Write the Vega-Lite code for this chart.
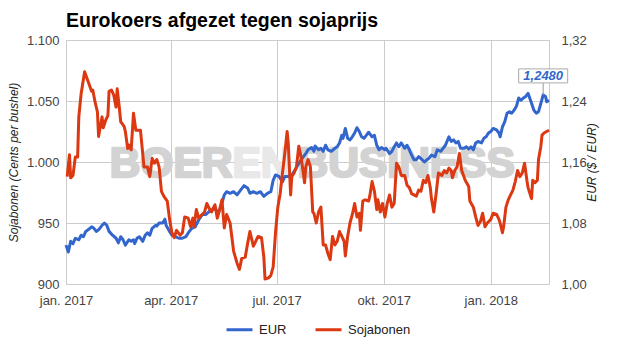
{
  "$schema": "https://vega.github.io/schema/vega-lite/v6.json",
  "width": 483,
  "height": 244,
  "autosize": {"type": "none"},
  "padding": {"left": 66, "top": 40, "right": 76, "bottom": 71},
  "background": "white",
  "title": {"text": "Eurokoers afgezet tegen sojaprijs", "anchor": "start", "frame": "group", "font": "Liberation Sans", "fontSize": 19.5, "fontWeight": "bold", "color": "#000000", "offset": 3},
  "config": {
    "view": {"stroke": "#cccccc"},
    "axis": {"labelFont": "Liberation Sans", "titleFont": "Liberation Sans", "labelFontSize": 13, "labelColor": "#444444", "domain": false, "ticks": false, "gridColor": "#cccccc", "labelOverlap": false}
  },
  "datasets": {
    "soy": [
      {"d": "2017-01-02", "v": 988}, {"d": "2017-01-04", "v": 1006}, {"d": "2017-01-05", "v": 987}, {"d": "2017-01-07", "v": 989},
      {"d": "2017-01-09", "v": 1004}, {"d": "2017-01-11", "v": 1004}, {"d": "2017-01-12", "v": 1037}, {"d": "2017-01-14", "v": 1056},
      {"d": "2017-01-17", "v": 1074}, {"d": "2017-01-20", "v": 1066}, {"d": "2017-01-23", "v": 1058}, {"d": "2017-01-24", "v": 1059},
      {"d": "2017-01-26", "v": 1049}, {"d": "2017-01-28", "v": 1041}, {"d": "2017-01-29", "v": 1021}, {"d": "2017-02-01", "v": 1037},
      {"d": "2017-02-02", "v": 1028}, {"d": "2017-02-04", "v": 1034}, {"d": "2017-02-06", "v": 1038}, {"d": "2017-02-07", "v": 1058},
      {"d": "2017-02-09", "v": 1059}, {"d": "2017-02-11", "v": 1055}, {"d": "2017-02-13", "v": 1045}, {"d": "2017-02-14", "v": 1060},
      {"d": "2017-02-16", "v": 1043}, {"d": "2017-02-17", "v": 1033}, {"d": "2017-02-20", "v": 1029}, {"d": "2017-02-21", "v": 1025},
      {"d": "2017-02-23", "v": 1011}, {"d": "2017-02-24", "v": 1014}, {"d": "2017-02-26", "v": 1010}, {"d": "2017-02-28", "v": 1040},
      {"d": "2017-03-02", "v": 1026}, {"d": "2017-03-06", "v": 1026}, {"d": "2017-03-09", "v": 996}, {"d": "2017-03-12", "v": 996},
      {"d": "2017-03-14", "v": 988}, {"d": "2017-03-16", "v": 1003}, {"d": "2017-03-18", "v": 999}, {"d": "2017-03-20", "v": 1002},
      {"d": "2017-03-22", "v": 996}, {"d": "2017-03-24", "v": 976}, {"d": "2017-03-26", "v": 972}, {"d": "2017-03-29", "v": 968},
      {"d": "2017-03-31", "v": 953}, {"d": "2017-04-02", "v": 942}, {"d": "2017-04-04", "v": 938}, {"d": "2017-04-06", "v": 944},
      {"d": "2017-04-09", "v": 940}, {"d": "2017-04-11", "v": 942}, {"d": "2017-04-13", "v": 955}, {"d": "2017-04-16", "v": 954},
      {"d": "2017-04-18", "v": 947}, {"d": "2017-04-20", "v": 954}, {"d": "2017-04-21", "v": 947}, {"d": "2017-04-23", "v": 961},
      {"d": "2017-04-25", "v": 954}, {"d": "2017-04-28", "v": 957}, {"d": "2017-04-30", "v": 959}, {"d": "2017-05-02", "v": 966},
      {"d": "2017-05-04", "v": 962}, {"d": "2017-05-06", "v": 959}, {"d": "2017-05-09", "v": 965}, {"d": "2017-05-11", "v": 954},
      {"d": "2017-05-13", "v": 961}, {"d": "2017-05-15", "v": 969}, {"d": "2017-05-17", "v": 946}, {"d": "2017-05-19", "v": 957},
      {"d": "2017-05-22", "v": 950}, {"d": "2017-05-25", "v": 927}, {"d": "2017-05-28", "v": 917}, {"d": "2017-05-30", "v": 912},
      {"d": "2017-06-01", "v": 921}, {"d": "2017-06-04", "v": 922}, {"d": "2017-06-06", "v": 933}, {"d": "2017-06-08", "v": 943},
      {"d": "2017-06-11", "v": 931}, {"d": "2017-06-13", "v": 935}, {"d": "2017-06-15", "v": 939}, {"d": "2017-06-18", "v": 938},
      {"d": "2017-06-20", "v": 922}, {"d": "2017-06-21", "v": 904}, {"d": "2017-06-24", "v": 905}, {"d": "2017-06-26", "v": 907},
      {"d": "2017-06-28", "v": 914}, {"d": "2017-06-30", "v": 942}, {"d": "2017-07-02", "v": 963}, {"d": "2017-07-04", "v": 974},
      {"d": "2017-07-06", "v": 991}, {"d": "2017-07-08", "v": 1007}, {"d": "2017-07-10", "v": 1025}, {"d": "2017-07-11", "v": 1015},
      {"d": "2017-07-13", "v": 973}, {"d": "2017-07-14", "v": 988}, {"d": "2017-07-16", "v": 991}, {"d": "2017-07-18", "v": 996},
      {"d": "2017-07-20", "v": 1013}, {"d": "2017-07-22", "v": 1004}, {"d": "2017-07-25", "v": 983}, {"d": "2017-07-26", "v": 996},
      {"d": "2017-07-28", "v": 1002}, {"d": "2017-07-30", "v": 996}, {"d": "2017-08-01", "v": 959}, {"d": "2017-08-02", "v": 958},
      {"d": "2017-08-04", "v": 950}, {"d": "2017-08-06", "v": 959}, {"d": "2017-08-08", "v": 963}, {"d": "2017-08-10", "v": 932},
      {"d": "2017-08-12", "v": 932}, {"d": "2017-08-14", "v": 925}, {"d": "2017-08-16", "v": 920}, {"d": "2017-08-18", "v": 939},
      {"d": "2017-08-20", "v": 932}, {"d": "2017-08-22", "v": 935}, {"d": "2017-08-24", "v": 943}, {"d": "2017-08-26", "v": 939},
      {"d": "2017-08-28", "v": 935}, {"d": "2017-08-29", "v": 923}, {"d": "2017-08-31", "v": 939}, {"d": "2017-09-02", "v": 950},
      {"d": "2017-09-04", "v": 957}, {"d": "2017-09-06", "v": 966}, {"d": "2017-09-08", "v": 955}, {"d": "2017-09-10", "v": 958},
      {"d": "2017-09-11", "v": 944}, {"d": "2017-09-13", "v": 968}, {"d": "2017-09-15", "v": 969}, {"d": "2017-09-18", "v": 968},
      {"d": "2017-09-19", "v": 972}, {"d": "2017-09-21", "v": 984}, {"d": "2017-09-23", "v": 976}, {"d": "2017-09-25", "v": 961},
      {"d": "2017-09-26", "v": 969}, {"d": "2017-09-28", "v": 959}, {"d": "2017-09-30", "v": 966}, {"d": "2017-10-02", "v": 955},
      {"d": "2017-10-04", "v": 966}, {"d": "2017-10-06", "v": 973}, {"d": "2017-10-08", "v": 963}, {"d": "2017-10-10", "v": 966},
      {"d": "2017-10-12", "v": 999}, {"d": "2017-10-14", "v": 996}, {"d": "2017-10-16", "v": 989}, {"d": "2017-10-19", "v": 989},
      {"d": "2017-10-21", "v": 981}, {"d": "2017-10-23", "v": 979}, {"d": "2017-10-25", "v": 974}, {"d": "2017-10-27", "v": 973},
      {"d": "2017-10-29", "v": 972}, {"d": "2017-10-31", "v": 977}, {"d": "2017-11-02", "v": 976}, {"d": "2017-11-04", "v": 985},
      {"d": "2017-11-06", "v": 983}, {"d": "2017-11-08", "v": 989}, {"d": "2017-11-10", "v": 979}, {"d": "2017-11-11", "v": 970},
      {"d": "2017-11-13", "v": 959}, {"d": "2017-11-15", "v": 974}, {"d": "2017-11-17", "v": 991}, {"d": "2017-11-20", "v": 989},
      {"d": "2017-11-22", "v": 993}, {"d": "2017-11-24", "v": 991}, {"d": "2017-11-26", "v": 995}, {"d": "2017-11-28", "v": 993},
      {"d": "2017-11-29", "v": 987}, {"d": "2017-12-01", "v": 993}, {"d": "2017-12-03", "v": 996}, {"d": "2017-12-05", "v": 1007},
      {"d": "2017-12-07", "v": 993}, {"d": "2017-12-10", "v": 985}, {"d": "2017-12-13", "v": 980}, {"d": "2017-12-14", "v": 968},
      {"d": "2017-12-17", "v": 963}, {"d": "2017-12-19", "v": 955}, {"d": "2017-12-21", "v": 948}, {"d": "2017-12-23", "v": 951},
      {"d": "2017-12-25", "v": 958}, {"d": "2017-12-27", "v": 947}, {"d": "2017-12-29", "v": 950}, {"d": "2018-01-01", "v": 953},
      {"d": "2018-01-03", "v": 958}, {"d": "2018-01-06", "v": 957}, {"d": "2018-01-08", "v": 953}, {"d": "2018-01-09", "v": 950},
      {"d": "2018-01-11", "v": 942}, {"d": "2018-01-12", "v": 947}, {"d": "2018-01-14", "v": 963}, {"d": "2018-01-16", "v": 969},
      {"d": "2018-01-18", "v": 973}, {"d": "2018-01-20", "v": 977}, {"d": "2018-01-22", "v": 984}, {"d": "2018-01-24", "v": 993},
      {"d": "2018-01-26", "v": 988}, {"d": "2018-01-28", "v": 991}, {"d": "2018-01-30", "v": 999}, {"d": "2018-02-01", "v": 985},
      {"d": "2018-02-02", "v": 979}, {"d": "2018-02-05", "v": 970}, {"d": "2018-02-06", "v": 985}, {"d": "2018-02-08", "v": 983},
      {"d": "2018-02-10", "v": 985}, {"d": "2018-02-11", "v": 1002}, {"d": "2018-02-13", "v": 1013}, {"d": "2018-02-14", "v": 1022},
      {"d": "2018-02-16", "v": 1024}, {"d": "2018-02-18", "v": 1025}, {"d": "2018-02-20", "v": 1026}
    ],
    "eur": [
      {"d": "2017-01-01", "v": 1.051}, {"d": "2017-01-03", "v": 1.042}, {"d": "2017-01-05", "v": 1.056}, {"d": "2017-01-07", "v": 1.053},
      {"d": "2017-01-09", "v": 1.060}, {"d": "2017-01-12", "v": 1.058}, {"d": "2017-01-14", "v": 1.064}, {"d": "2017-01-16", "v": 1.062},
      {"d": "2017-01-18", "v": 1.069}, {"d": "2017-01-20", "v": 1.071}, {"d": "2017-01-23", "v": 1.075}, {"d": "2017-01-25", "v": 1.073},
      {"d": "2017-01-27", "v": 1.069}, {"d": "2017-01-29", "v": 1.071}, {"d": "2017-02-01", "v": 1.077}, {"d": "2017-02-03", "v": 1.080},
      {"d": "2017-02-05", "v": 1.077}, {"d": "2017-02-07", "v": 1.069}, {"d": "2017-02-10", "v": 1.064}, {"d": "2017-02-13", "v": 1.060},
      {"d": "2017-02-15", "v": 1.054}, {"d": "2017-02-17", "v": 1.062}, {"d": "2017-02-19", "v": 1.058}, {"d": "2017-02-21", "v": 1.051},
      {"d": "2017-02-24", "v": 1.058}, {"d": "2017-02-26", "v": 1.056}, {"d": "2017-02-28", "v": 1.058}, {"d": "2017-03-01", "v": 1.053},
      {"d": "2017-03-03", "v": 1.060}, {"d": "2017-03-05", "v": 1.062}, {"d": "2017-03-08", "v": 1.056}, {"d": "2017-03-10", "v": 1.064},
      {"d": "2017-03-12", "v": 1.067}, {"d": "2017-03-14", "v": 1.064}, {"d": "2017-03-16", "v": 1.073}, {"d": "2017-03-19", "v": 1.077},
      {"d": "2017-03-20", "v": 1.076}, {"d": "2017-03-22", "v": 1.080}, {"d": "2017-03-25", "v": 1.080}, {"d": "2017-03-27", "v": 1.085},
      {"d": "2017-03-28", "v": 1.077}, {"d": "2017-03-31", "v": 1.069}, {"d": "2017-04-02", "v": 1.064}, {"d": "2017-04-05", "v": 1.062},
      {"d": "2017-04-08", "v": 1.060}, {"d": "2017-04-11", "v": 1.060}, {"d": "2017-04-14", "v": 1.062}, {"d": "2017-04-16", "v": 1.067},
      {"d": "2017-04-19", "v": 1.073}, {"d": "2017-04-22", "v": 1.075}, {"d": "2017-04-25", "v": 1.084}, {"d": "2017-04-28", "v": 1.091},
      {"d": "2017-05-01", "v": 1.091}, {"d": "2017-05-04", "v": 1.095}, {"d": "2017-05-06", "v": 1.097}, {"d": "2017-05-09", "v": 1.099},
      {"d": "2017-05-12", "v": 1.093}, {"d": "2017-05-15", "v": 1.106}, {"d": "2017-05-17", "v": 1.117}, {"d": "2017-05-19", "v": 1.121},
      {"d": "2017-05-22", "v": 1.119}, {"d": "2017-05-25", "v": 1.121}, {"d": "2017-05-28", "v": 1.117}, {"d": "2017-05-31", "v": 1.123},
      {"d": "2017-06-03", "v": 1.129}, {"d": "2017-06-06", "v": 1.126}, {"d": "2017-06-08", "v": 1.119}, {"d": "2017-06-11", "v": 1.121},
      {"d": "2017-06-14", "v": 1.119}, {"d": "2017-06-17", "v": 1.121}, {"d": "2017-06-20", "v": 1.115}, {"d": "2017-06-23", "v": 1.119},
      {"d": "2017-06-26", "v": 1.121}, {"d": "2017-06-28", "v": 1.136}, {"d": "2017-06-30", "v": 1.143}, {"d": "2017-07-03", "v": 1.141},
      {"d": "2017-07-06", "v": 1.134}, {"d": "2017-07-08", "v": 1.141}, {"d": "2017-07-11", "v": 1.141}, {"d": "2017-07-14", "v": 1.143},
      {"d": "2017-07-17", "v": 1.150}, {"d": "2017-07-20", "v": 1.158}, {"d": "2017-07-23", "v": 1.165}, {"d": "2017-07-26", "v": 1.171},
      {"d": "2017-07-28", "v": 1.176}, {"d": "2017-07-31", "v": 1.179}, {"d": "2017-08-02", "v": 1.174}, {"d": "2017-08-03", "v": 1.181},
      {"d": "2017-08-06", "v": 1.176}, {"d": "2017-08-08", "v": 1.178}, {"d": "2017-08-10", "v": 1.174}, {"d": "2017-08-12", "v": 1.182},
      {"d": "2017-08-14", "v": 1.176}, {"d": "2017-08-17", "v": 1.174}, {"d": "2017-08-20", "v": 1.178}, {"d": "2017-08-22", "v": 1.180},
      {"d": "2017-08-24", "v": 1.185}, {"d": "2017-08-26", "v": 1.195}, {"d": "2017-08-27", "v": 1.191}, {"d": "2017-08-29", "v": 1.204},
      {"d": "2017-08-31", "v": 1.191}, {"d": "2017-09-02", "v": 1.189}, {"d": "2017-09-04", "v": 1.193}, {"d": "2017-09-06", "v": 1.198},
      {"d": "2017-09-08", "v": 1.205}, {"d": "2017-09-10", "v": 1.200}, {"d": "2017-09-12", "v": 1.193}, {"d": "2017-09-14", "v": 1.191},
      {"d": "2017-09-16", "v": 1.195}, {"d": "2017-09-18", "v": 1.199}, {"d": "2017-09-21", "v": 1.193}, {"d": "2017-09-23", "v": 1.195},
      {"d": "2017-09-25", "v": 1.182}, {"d": "2017-09-27", "v": 1.176}, {"d": "2017-09-29", "v": 1.179}, {"d": "2017-10-02", "v": 1.176},
      {"d": "2017-10-03", "v": 1.178}, {"d": "2017-10-06", "v": 1.171}, {"d": "2017-10-08", "v": 1.174}, {"d": "2017-10-10", "v": 1.180},
      {"d": "2017-10-12", "v": 1.185}, {"d": "2017-10-14", "v": 1.180}, {"d": "2017-10-16", "v": 1.185}, {"d": "2017-10-19", "v": 1.178},
      {"d": "2017-10-21", "v": 1.182}, {"d": "2017-10-23", "v": 1.176}, {"d": "2017-10-25", "v": 1.169}, {"d": "2017-10-27", "v": 1.163},
      {"d": "2017-10-29", "v": 1.163}, {"d": "2017-10-31", "v": 1.167}, {"d": "2017-11-03", "v": 1.163}, {"d": "2017-11-05", "v": 1.160},
      {"d": "2017-11-07", "v": 1.163}, {"d": "2017-11-09", "v": 1.165}, {"d": "2017-11-11", "v": 1.169}, {"d": "2017-11-14", "v": 1.167},
      {"d": "2017-11-16", "v": 1.176}, {"d": "2017-11-19", "v": 1.174}, {"d": "2017-11-21", "v": 1.178}, {"d": "2017-11-23", "v": 1.182},
      {"d": "2017-11-26", "v": 1.193}, {"d": "2017-11-28", "v": 1.187}, {"d": "2017-11-30", "v": 1.189}, {"d": "2017-12-02", "v": 1.185},
      {"d": "2017-12-04", "v": 1.187}, {"d": "2017-12-06", "v": 1.178}, {"d": "2017-12-09", "v": 1.178}, {"d": "2017-12-11", "v": 1.180},
      {"d": "2017-12-13", "v": 1.177}, {"d": "2017-12-15", "v": 1.180}, {"d": "2017-12-17", "v": 1.176}, {"d": "2017-12-19", "v": 1.185},
      {"d": "2017-12-21", "v": 1.187}, {"d": "2017-12-24", "v": 1.185}, {"d": "2017-12-26", "v": 1.191}, {"d": "2017-12-28", "v": 1.193},
      {"d": "2017-12-30", "v": 1.198}, {"d": "2018-01-01", "v": 1.200}, {"d": "2018-01-03", "v": 1.204}, {"d": "2018-01-06", "v": 1.202},
      {"d": "2018-01-08", "v": 1.198}, {"d": "2018-01-09", "v": 1.193}, {"d": "2018-01-11", "v": 1.206}, {"d": "2018-01-13", "v": 1.213},
      {"d": "2018-01-15", "v": 1.224}, {"d": "2018-01-17", "v": 1.226}, {"d": "2018-01-19", "v": 1.224}, {"d": "2018-01-21", "v": 1.228},
      {"d": "2018-01-23", "v": 1.233}, {"d": "2018-01-25", "v": 1.244}, {"d": "2018-01-27", "v": 1.241}, {"d": "2018-01-29", "v": 1.244},
      {"d": "2018-01-31", "v": 1.246}, {"d": "2018-02-02", "v": 1.250}, {"d": "2018-02-03", "v": 1.246}, {"d": "2018-02-05", "v": 1.237},
      {"d": "2018-02-07", "v": 1.228}, {"d": "2018-02-09", "v": 1.224}, {"d": "2018-02-11", "v": 1.226}, {"d": "2018-02-13", "v": 1.237},
      {"d": "2018-02-15", "v": 1.248, "label": "1,2480"}, {"d": "2018-02-17", "v": 1.246}, {"d": "2018-02-18", "v": 1.239}, {"d": "2018-02-20", "v": 1.241}
    ]
  },
  "encoding": {
    "x": {
      "field": "d", "type": "temporal",
      "scale": {"type": "utc", "domain": [{"year": 2017, "month": 1, "date": 1, "utc": true}, {"year": 2018, "month": 2, "date": 20, "utc": true}]},
      "axis": {
        "title": null, "grid": true, "labelFlush": false, "labelPadding": 10,
        "values": [{"year": 2017, "month": 1, "date": 1, "utc": true}, {"year": 2017, "month": 4, "date": 1, "utc": true}, {"year": 2017, "month": 7, "date": 1, "utc": true}, {"year": 2017, "month": 10, "date": 1, "utc": true}, {"year": 2018, "month": 1, "date": 1, "utc": true}],
        "labelExpr": "['jan.','feb.','mrt.','apr.','mei','jun.','jul.','aug.','sep.','okt.','nov.','dec.'][utcmonth(datum.value)] + ' ' + utcyear(datum.value)"
      }
    }
  },
  "layer": [
    {
      "data": {"values": [{"t": "BOER", "d": "2017-05-24", "v": 988}]},
      "mark": {"type": "text", "align": "right", "baseline": "alphabetic", "font": "Liberation Sans", "fontWeight": "bold", "fontSize": 42.5, "color": "#d3d3d3", "stroke": "#d3d3d3", "strokeWidth": 2.5, "strokeJoin": "round"},
      "encoding": {"y": {"field": "v", "type": "quantitative", "scale": {"domain": [900, 1100], "nice": false, "zero": false}, "axis": null}, "text": {"field": "t"}}
    },
    {
      "data": {"values": [{"t": "EN", "d": "2017-05-24", "v": 988}]},
      "mark": {"type": "text", "align": "left", "baseline": "alphabetic", "font": "Liberation Sans", "fontWeight": "bold", "fontSize": 42.5, "color": "#e8e8e8", "stroke": "#e8e8e8", "strokeWidth": 2.5, "strokeJoin": "round"},
      "encoding": {"y": {"field": "v", "type": "quantitative", "scale": {"domain": [900, 1100], "nice": false, "zero": false}, "axis": null}, "text": {"field": "t"}}
    },
    {
      "data": {"values": [{"t": "BUSINESS", "d": "2017-07-19", "v": 988}]},
      "mark": {"type": "text", "align": "left", "baseline": "alphabetic", "font": "Liberation Sans", "fontWeight": "bold", "fontSize": 42.5, "color": "#d3d3d3", "stroke": "#d3d3d3", "strokeWidth": 2.5, "strokeJoin": "round"},
      "encoding": {"y": {"field": "v", "type": "quantitative", "scale": {"domain": [900, 1100], "nice": false, "zero": false}, "axis": null}, "text": {"field": "t"}}
    },
    {
      "data": {"name": "eur"},
      "mark": {"type": "line", "strokeWidth": 3, "strokeJoin": "round"},
      "encoding": {
        "y": {"field": "v", "type": "quantitative", "scale": {"domain": [1, 1.32], "nice": false, "zero": false},
          "axis": {"orient": "right", "values": [1, 1.08, 1.16, 1.24, 1.32], "grid": false, "labelPadding": 12, "labelExpr": "replace(format(datum.value, '.2f'), '.', ',')", "title": "EUR ($ / EUR)", "titleAngle": 270, "titleFontStyle": "italic", "titleFontWeight": "normal", "titleFontSize": 12, "titleColor": "#222222", "titlePadding": 12}},
        "color": {"datum": "EUR", "type": "nominal", "scale": {"domain": ["EUR", "Sojabonen"], "range": ["#3366cc", "#dc3912"]},
          "legend": {"orient": "none", "legendX": 159, "legendY": 275, "direction": "horizontal", "title": null, "symbolType": "stroke", "symbolSize": 676, "symbolStrokeWidth": 3, "labelFont": "Liberation Sans", "labelFontSize": 13, "labelColor": "#222222", "labelOffset": 5, "columnPadding": 22}}
      }
    },
    {
      "data": {"name": "soy"},
      "mark": {"type": "line", "strokeWidth": 3, "strokeJoin": "round"},
      "encoding": {
        "y": {"field": "v", "type": "quantitative", "scale": {"domain": [900, 1100], "nice": false, "zero": false},
          "axis": {"orient": "left", "values": [900, 950, 1000, 1050, 1100], "grid": true, "labelPadding": 7, "labelExpr": "replace(format(datum.value, ',d'), ',', '.')", "title": "Sojabonen (Cents per bushel)", "titleFontStyle": "italic", "titleFontWeight": "normal", "titleFontSize": 12, "titleColor": "#222222", "titlePadding": 6}},
        "color": {"datum": "Sojabonen", "type": "nominal"}
      }
    },
    {
      "data": {"name": "eur"},
      "transform": [{"filter": "isValid(datum.label)"}],
      "mark": {"type": "rule", "color": "#999999", "strokeWidth": 1, "y2Offset": -12},
      "encoding": {"y": {"field": "v", "type": "quantitative", "scale": {"domain": [1, 1.32], "nice": false, "zero": false}, "axis": null}, "y2": {"field": "v"}}
    },
    {
      "data": {"name": "eur"},
      "transform": [{"filter": "isValid(datum.label)"}],
      "mark": {"type": "rect", "fill": "#ffffff", "stroke": "#aaaaaa", "strokeWidth": 1, "xOffset": -24.5, "x2Offset": 24.5, "yOffset": -26, "y2Offset": -12},
      "encoding": {"x2": {"field": "d"}, "y": {"field": "v", "type": "quantitative", "scale": {"domain": [1, 1.32], "nice": false, "zero": false}, "axis": null}, "y2": {"field": "v"}}
    },
    {
      "data": {"name": "eur"},
      "transform": [{"filter": "isValid(datum.label)"}],
      "mark": {"type": "text", "dy": -19, "font": "Liberation Sans", "fontStyle": "italic", "fontWeight": "bold", "fontSize": 13, "color": "#3366cc"},
      "encoding": {"y": {"field": "v", "type": "quantitative", "scale": {"domain": [1, 1.32], "nice": false, "zero": false}, "axis": null}, "text": {"field": "label"}}
    }
  ],
  "resolve": {"scale": {"y": "independent"}}
}
